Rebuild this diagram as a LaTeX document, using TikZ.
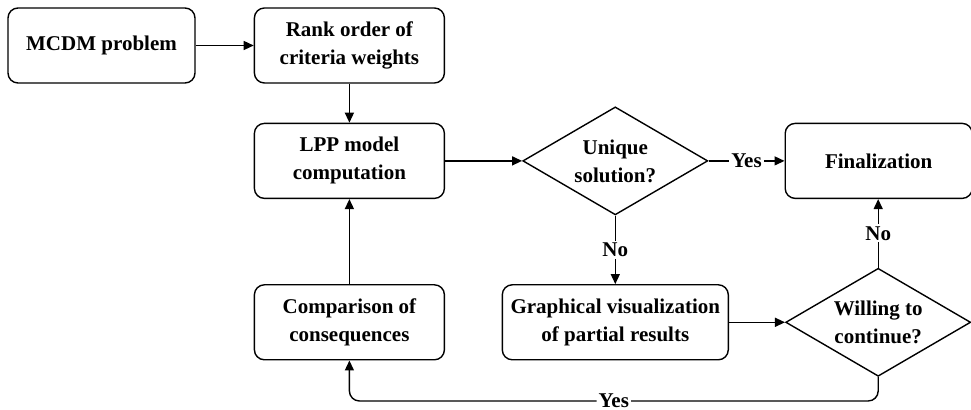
\documentclass[tikz,border=0pt]{standalone}
\usepackage{fontspec}
\setmainfont{Liberation Serif}
\usetikzlibrary{positioning,shapes.geometric,arrows.meta}

\tikzset{
  txt/.style={font=\bfseries\fontsize{10.5}{14}\selectfont},
  block/.style={txt, draw, rounded corners=5pt, line width=0.7pt, minimum width=95pt, minimum height=37.5pt, align=center},
  decision/.style={txt, draw, diamond, aspect=1.72, line width=0.7pt, minimum width=92.5pt, minimum height=54pt, inner xsep=0pt, inner ysep=-4pt, align=center},
  link/.style={draw, line width=0.7pt, -{Triangle[length=5pt,width=4.5pt]}},
  lbl/.style={txt, fill=white, inner sep=1pt}
}

\begin{document}
\begin{tikzpicture}[x=0.5pt, y=-0.5pt]

    \useasboundingbox (0,0) rectangle (971,410);

    % Define nodes
    \node[block, minimum width=93.5pt] (mcdm) at (101.5,45.5) {MCDM problem};
    \node[block, right=29pt of mcdm]            (rank)  {Rank order of\\criteria weights};
    \node[block, below=19.5pt of rank]          (lpp)   {LPP model\\computation};
    \node[block, below=42.5pt of lpp]           (comp)  {Comparison of\\consequences};
    \node[decision, right=38.5pt of lpp]        (uniq)  {Unique\\solution?};
    \node[block, minimum width=93.5pt, right=38pt of uniq] (final) {Finalization};
    \node[block, minimum width=113pt] (graph) at (uniq |- comp) {Graphical visualization\\of partial results};
    \node[decision, right=28pt of graph]        (will)  {Willing to\\continue?};

    % Connect the nodes
    \draw[link] (mcdm) -- (rank);
    \draw[link] (rank) -- (lpp);
    \draw[link] (comp) -- (lpp);
    \draw[link] (lpp) -- (uniq);
    \draw[link] (uniq) -- node[lbl] {Yes} (final);
    \draw[link] (uniq) -- node[lbl] {No} (graph);
    \draw[link] (graph) -- (will);
    \draw[link] (will.north) -- node[lbl] {No} (will.north |- final.south);
    \draw[link, rounded corners=5pt] (will.south) -- ++(0,-12pt) -| node[lbl, pos=0.25] {Yes} (comp.south);

\end{tikzpicture}
\end{document}
